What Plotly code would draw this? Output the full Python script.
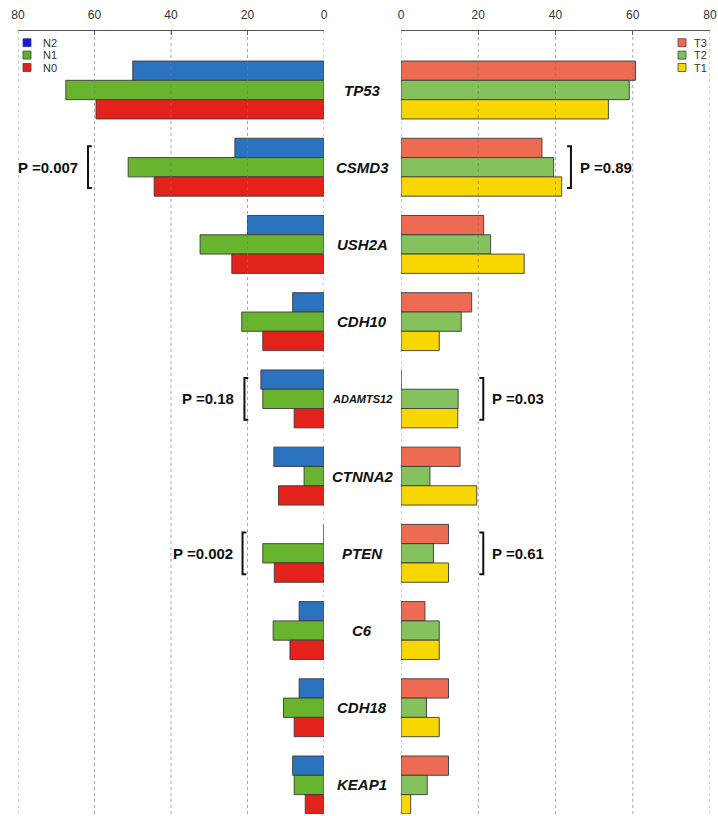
import plotly.graph_objects as go

# Mutation frequency (%) of the top genes, split by N stage (left) and T stage (right)
genes = ["TP53", "CSMD3", "USH2A", "CDH10", "ADAMTS12", "CTNNA2", "PTEN", "C6", "CDH18", "KEAP1"]

n_groups = ["N2", "N1", "N0"]
n2 = [50.0, 23.3, 20.0, 8.2, 16.5, 13.1, 0.0, 6.5, 6.5, 8.2]
n1 = [67.5, 51.2, 32.4, 21.5, 16.0, 5.2, 16.0, 13.3, 10.6, 7.8]
n0 = [59.6, 44.4, 24.1, 16.0, 7.8, 11.9, 13.0, 8.9, 7.8, 4.9]

t_groups = ["T3", "T2", "T1"]
t3 = [60.7, 36.5, 21.4, 18.3, 0.0, 15.3, 12.3, 6.2, 12.3, 12.3]
t2 = [59.1, 39.5, 23.2, 15.6, 14.8, 7.5, 8.4, 9.9, 6.6, 6.8]
t1 = [53.7, 41.6, 31.9, 9.9, 14.7, 19.6, 12.3, 9.9, 9.9, 2.5]

tick_values = [0, 20, 40, 60, 80]

# P-values of the group comparisons (gene -> text)
p_n_stage = {"CSMD3": "0.007", "ADAMTS12": "0.18", "PTEN": "0.002"}
p_t_stage = {"CSMD3": "0.89", "ADAMTS12": "0.03", "PTEN": "0.61"}

# ---- styling ----
n_colors = ["#2b72bf", "#68b42e", "#e3221c"]
t_colors = ["#ee6b53", "#85c15c", "#f8d700"]
n_key_colors = ["#1414f0", "#5db02d", "#e02020"]
t_key_colors = ["#ef6a55", "#7dc060", "#f5d800"]
bar_line = dict(color="#3a3a3a", width=0.9)

# bracket placement (x in axis units) for each comparison
bracket_left_x = {"CSMD3": 61.7, "ADAMTS12": 20.8, "PTEN": 21.3}
bracket_right_x = {"CSMD3": 44.0, "ADAMTS12": 21.3, "PTEN": 21.3}

idx = list(range(len(genes)))

fig = go.Figure()
for name, vals, col in zip(n_groups, [n2, n1, n0], n_colors):
    fig.add_trace(go.Bar(x=vals, y=idx, orientation="h", name=name, xaxis="x", yaxis="y",
                         marker=dict(color=col, line=bar_line), showlegend=False, offsetgroup=name))
for name, vals, col in zip(t_groups, [t3, t2, t1], t_colors):
    fig.add_trace(go.Bar(x=vals, y=idx, orientation="h", name=name, xaxis="x2", yaxis="y2",
                         marker=dict(color=col, line=bar_line), showlegend=False, offsetgroup=name))

W, H = 718, 816
y_range = [9.376, -0.764]
axis_common = dict(side="top", tickvals=tick_values, showgrid=False, zeroline=False,
                   automargin=False,
                   showline=True, linecolor="#555", linewidth=1, ticks="inside", ticklen=4,
                   tickcolor="#555", tickfont=dict(family="Liberation Sans, Arial", size=12, color="#333"),
                   ticklabelstandoff=6)

fig.update_layout(
    width=W, height=H,
    margin=dict(l=0, r=0, t=31, b=2, autoexpand=False),
    paper_bgcolor="white", plot_bgcolor="white",
    barmode="group", bargap=0.25, bargroupgap=0,
    showlegend=False,
    xaxis=dict(domain=[18 / W, 324 / W], range=[80, 0], anchor="y", **axis_common),
    xaxis2=dict(domain=[401 / W, 710 / W], range=[0, 80], anchor="y2", **axis_common),
    yaxis=dict(range=y_range, showticklabels=False, showgrid=False, zeroline=False,
               showline=False, anchor="x", automargin=False),
    yaxis2=dict(range=y_range, showticklabels=False, showgrid=False, zeroline=False,
                showline=False, anchor="x2", automargin=False),
)

shapes = []
annotations = []

# dashed vertical grid drawn over the bars
for xr, yr in [("x", "y domain"), ("x2", "y2 domain")]:
    for v in tick_values:
        shapes.append(dict(type="line", xref=xr, yref=yr, x0=v, x1=v, y0=0, y1=1, layer="above",
                           line=dict(color="rgba(120,120,120,0.65)", width=1, dash="3px,3px")))

# gene names in the centre column
for i, g in enumerate(genes):
    size = 11 if len(g) > 6 else 15
    annotations.append(dict(text=g, xref="paper", yref="y", x=362 / W, y=i, showarrow=False,
                            xanchor="center", yanchor="middle",
                            font=dict(family="Liberation Sans, Arial", size=size, color="#111",
                                      weight="bold", style="italic")))

p_font = dict(family="Liberation Sans, Arial", size=15, color="#111", weight="bold")
half = 0.27
serif = 1.0

for g, p in p_n_stage.items():
    i = genes.index(g)
    bx = bracket_left_x[g]
    shapes.append(dict(type="path", xref="x", yref="y", layer="above",
                       path=f"M {bx - serif},{i - half} L {bx},{i - half} L {bx},{i + half} L {bx - serif},{i + half}",
                       line=dict(color="#111", width=2)))
    annotations.append(dict(text=f"P ={p}", xref="x", yref="y", x=bx, y=i, xshift=-8,
                            xanchor="right", yanchor="middle", showarrow=False, font=p_font))

for g, p in p_t_stage.items():
    i = genes.index(g)
    bx = bracket_right_x[g]
    shapes.append(dict(type="path", xref="x2", yref="y2", layer="above",
                       path=f"M {bx - serif},{i - half} L {bx},{i - half} L {bx},{i + half} L {bx - serif},{i + half}",
                       line=dict(color="#111", width=2)))
    annotations.append(dict(text=f"P ={p}", xref="x2", yref="y2", x=bx, y=i, xshift=7,
                            xanchor="left", yanchor="middle", showarrow=False, font=p_font))

# keys for the two group sets
key_font = dict(family="Liberation Sans, Arial", size=11, color="#333")
for k, (name, col) in enumerate(zip(n_groups, n_key_colors)):
    yc = 1 - (42.7 + 12.4 * k - 31) / (H - 33)
    shapes.append(dict(type="rect", xref="paper", yref="paper", x0=23 / W, x1=31 / W,
                       y0=yc - 4 / (H - 33), y1=yc + 4 / (H - 33), fillcolor=col,
                       line=dict(color="#444", width=0.8)))
    annotations.append(dict(text=name, xref="paper", yref="paper", x=41 / W, y=yc, showarrow=False,
                            xanchor="left", yanchor="middle", font=key_font))
for k, (name, col) in enumerate(zip(t_groups, t_key_colors)):
    yc = 1 - (42.7 + 12.4 * k - 31) / (H - 33)
    shapes.append(dict(type="rect", xref="paper", yref="paper", x0=678 / W, x1=686 / W,
                       y0=yc - 4 / (H - 33), y1=yc + 4 / (H - 33), fillcolor=col,
                       line=dict(color="#444", width=0.8)))
    annotations.append(dict(text=name, xref="paper", yref="paper", x=692 / W, y=yc, showarrow=False,
                            xanchor="left", yanchor="middle", font=key_font))

fig.update_layout(shapes=shapes, annotations=annotations)
fig.write_html("out.html")
